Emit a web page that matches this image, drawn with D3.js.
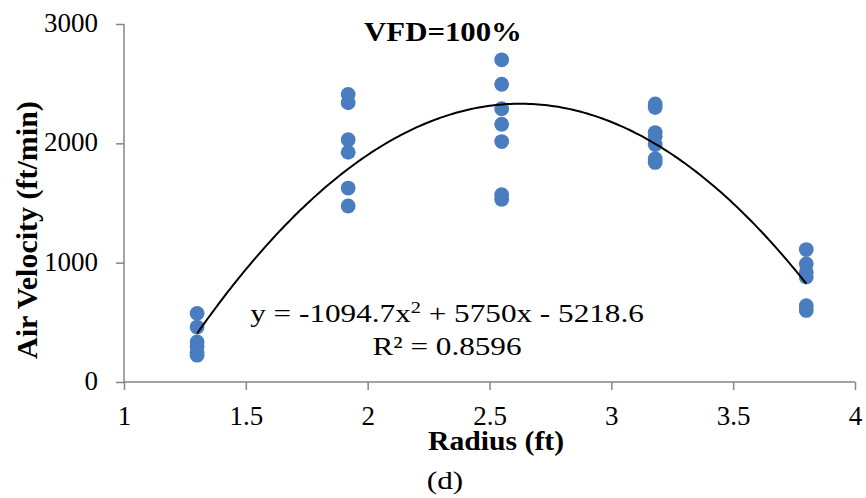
<!DOCTYPE html>
<html>
<head>
<meta charset="utf-8">
<script src="https://cdn.jsdelivr.net/npm/d3@7"></script>
<style>
  html, body { margin: 0; padding: 0; background: #fff; }
  svg { display: block; font-family: "Liberation Serif", "Times New Roman", serif; }
</style>
</head>
<body>
<svg id="chart" width="866" height="498"></svg>
<script>
// Measured air velocity at each radius (ft/min)
const radii = [1.3, 1.92, 2.55, 3.18, 3.8];
const velocityAt130 = [575, 460, 335, 300, 250, 225];
const velocityAt192 = [2410, 2340, 2030, 1925, 1625, 1475];
const velocityAt255 = [2700, 2495, 2290, 2160, 2015, 1570, 1530];
const velocityAt318 = [2330, 2300, 2090, 2060, 1990, 1870, 1840];
const velocityAt380 = [1110, 990, 920, 880, 640, 600];
const velocities = [velocityAt130, velocityAt192, velocityAt255, velocityAt318, velocityAt380];

// Second-order polynomial trendline: a*x^2 + b*x + c
const trendCoef = [-1094.7, 5750, -5218.6];
const trendR2 = 0.8596;

const xTicks = [1, 1.5, 2, 2.5, 3, 3.5, 4];
const yTicks = [0, 1000, 2000, 3000];

const svg = d3.select("#chart");
const plotLeft = 124, plotRight = 855, plotTop = 24, plotBottom = 382;

const x = d3.scaleLinear().domain([1, 4]).range([plotLeft, plotRight]);
const y = d3.scaleLinear().domain([0, 3000]).range([plotBottom, plotTop]);

const axisColor = "#868686";

// Y axis
const gy = svg.append("g")
  .attr("transform", `translate(${plotLeft},0)`)
  .call(d3.axisLeft(y).tickValues(yTicks).tickSize(8).tickPadding(18).tickFormat(d3.format("d")));
// X axis
const gx = svg.append("g")
  .attr("transform", `translate(0,${plotBottom})`)
  .call(d3.axisBottom(x).tickValues(xTicks).tickSize(8).tickPadding(18).tickFormat(d => String(d)));

[gx, gy].forEach(g => {
  g.select(".domain").attr("stroke", axisColor).attr("stroke-width", 1.5);
  g.selectAll(".tick line").attr("stroke", axisColor).attr("stroke-width", 1.5);
  g.selectAll(".tick text")
    .attr("fill", "#000")
    .style("font-family", '"Liberation Serif", "Times New Roman", serif')
    .style("font-size", "27px");
});
gy.select(".domain").attr("d", `M0,${plotTop}V${plotBottom}`);
gx.select(".domain").attr("d", `M${plotLeft},0H${plotRight}`);
gy.selectAll(".tick text").attr("dy", "0.28em");
gx.selectAll(".tick text").attr("dy", "0.62em");

// Data points
const points = radii.flatMap((r, i) => velocities[i].map(v => ({ r, v })));
svg.append("g").selectAll("circle")
  .data(points)
  .join("circle")
  .attr("cx", d => x(d.r))
  .attr("cy", d => y(d.v))
  .attr("r", 7.4)
  .attr("fill", "#4a7dbf");

// Trendline over the measured radius range
const poly = t => trendCoef[0] * t * t + trendCoef[1] * t + trendCoef[2];
const rMin = d3.min(radii), rMax = d3.max(radii);
const samples = d3.range(0, 201).map(k => rMin + (rMax - rMin) * k / 200);
svg.append("path")
  .datum(samples)
  .attr("fill", "none")
  .attr("stroke", "#000")
  .attr("stroke-width", 2)
  .attr("d", d3.line().x(t => x(t)).y(t => y(poly(t))));

// Title
svg.append("text")
  .attr("transform", "translate(443,41) scale(1.1,1)")
  .attr("text-anchor", "middle")
  .style("font-size", "28px")
  .style("font-weight", "bold")
  .text("VFD=100%");

// Trendline equation
const fmt = v => String(Math.abs(v));
const eq = svg.append("text")
  .attr("transform", "translate(447,322) scale(1.2,1)")
  .attr("text-anchor", "middle")
  .style("font-size", "26px");
eq.append("tspan").text(`y = -${fmt(trendCoef[0])}x`);
eq.append("tspan").attr("baseline-shift", "super").style("font-size", "17px").text("2");
eq.append("tspan").text(` + ${fmt(trendCoef[1])}x - ${fmt(trendCoef[2])}`);

svg.append("text")
  .attr("transform", "translate(447,355) scale(1.2,1)")
  .attr("text-anchor", "middle")
  .style("font-size", "26px")
  .text(`R² = ${trendR2}`);

// Axis titles
svg.append("text")
  .attr("transform", "translate(496,450) scale(1.1,1)")
  .attr("text-anchor", "middle")
  .style("font-size", "27px")
  .style("font-weight", "bold")
  .text("Radius (ft)");

svg.append("text")
  .attr("transform", "translate(37,230) rotate(-90)")
  .attr("text-anchor", "middle")
  .style("font-size", "30px")
  .style("font-weight", "bold")
  .text("Air Velocity (ft/min)");

svg.append("text")
  .attr("transform", "translate(445,489) scale(1.2,1)")
  .attr("text-anchor", "middle")
  .style("font-size", "26px")
  .text("(d)");
</script>
</body>
</html>
